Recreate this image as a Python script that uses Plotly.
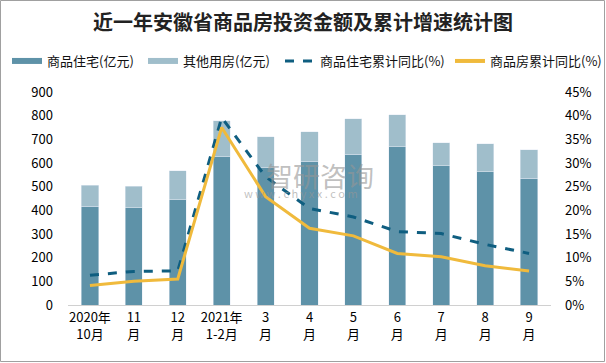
import plotly.graph_objects as go

categories = ["2020年<br>10月", "11<br>月", "12<br>月", "2021年<br>1-2月", "3<br>月", "4<br>月",
              "5<br>月", "6<br>月", "7<br>月", "8<br>月", "9<br>月"]
residential = [418, 410, 444, 626, 579, 608, 638, 668, 588, 562, 536]
other = [89, 92, 123, 152, 132, 124, 149, 136, 97, 119, 120]
res_growth = [6.3, 7.1, 7.2, 39.6, 27.1, 20.4, 18.6, 15.5, 15.1, 12.8, 10.9]
all_growth = [4.1, 5.0, 5.5, 37.5, 22.9, 16.2, 14.6, 10.9, 10.2, 8.3, 7.2]
legend_names = ["商品住宅(亿元)", "其他用房(亿元)", "商品住宅累计同比(%)", "商品房累计同比(%)"]

C_RES = "#5E92A8"
C_OTH = "#A0BECB"
C_DASH = "#0F5E80"
C_GOLD = "#F0BA3C"
FONT = "Noto Sans CJK SC"

W, H = 606, 363
ML, MR, MT, MB = 68, 55, 92, 58
pw = W - ML - MR
ph = H - MT - MB

fig = go.Figure()
fig.add_bar(x=categories, y=residential, marker_color=C_RES, name=legend_names[0],
            showlegend=False, yaxis="y")
fig.add_bar(x=categories, y=other, marker_color=C_OTH, name=legend_names[1],
            showlegend=False, yaxis="y")
fig.add_scatter(x=categories, y=res_growth, mode="lines", yaxis="y2", name=legend_names[2],
                line=dict(color=C_DASH, width=3, dash="dash"), showlegend=False)
fig.add_scatter(x=categories, y=all_growth, mode="lines", yaxis="y2", name=legend_names[3],
                line=dict(color=C_GOLD, width=3), showlegend=False)

# legend-only entries, each in its own legend box
text_x = [47, 183, 320, 490]
styles = [(C_RES, 6, "solid"), (C_OTH, 6, "solid"), (C_DASH, 3, "dash"), (C_GOLD, 4, "solid")]
legend_layouts = {}
for i, (nm, (col, wd, dash), tx) in enumerate(zip(legend_names, styles, text_x)):
    key = "legend" if i == 0 else f"legend{i + 1}"
    fig.add_scatter(x=[None], y=[None], mode="lines", name=nm, legend=key,
                    line=dict(color=col, width=wd, dash=dash))
    legend_layouts[key] = dict(orientation="h", x=(tx - 40 - ML) / pw, xanchor="left",
                               y=1 + (MT - 61) / ph, yanchor="middle",
                               font=dict(size=13, color="#111111"), itemwidth=30,
                               bgcolor="rgba(0,0,0,0)", borderwidth=0)

fig.update_layout(
    width=W, height=H,
    margin=dict(l=ML, r=MR, t=MT, b=MB, autoexpand=False),
    paper_bgcolor="white", plot_bgcolor="white",
    barmode="stack", bargap=0.61,
    font=dict(family=FONT, size=12, color="#000000"),
    title=dict(text="<b>近一年安徽省商品房投资金额及累计增速统计图</b>", x=0.5, xanchor="center",
               y=1 - 23 / H, yanchor="middle", font=dict(size=20, color="#222222")),
    xaxis=dict(showline=True, linecolor="#D0D0D0", linewidth=1, ticks="", automargin=False,
               tickfont=dict(size=13, color="#000000")),
    yaxis=dict(range=[0, 900], dtick=100, showgrid=False, zeroline=False, automargin=False,
               tickfont=dict(size=13, color="#000000"), ticklabelstandoff=14),
    yaxis2=dict(range=[0, 45], dtick=5, overlaying="y", side="right", showgrid=False,
                zeroline=False, ticksuffix="%", automargin=False,
                tickfont=dict(size=13, color="#000000"), ticklabelstandoff=13),
    shapes=[dict(type="rect", xref="paper", yref="paper",
                 x0=-(ML - 0.5) / pw, x1=1 + (MR - 1.5) / pw,
                 y0=-(MB - 1.5) / ph, y1=1 + (MT - 0.5) / ph,
                 line=dict(color="#A0A0A0", width=1), fillcolor="rgba(0,0,0,0)", layer="below")],
    annotations=[
        dict(text="智研咨询", xref="paper", yref="paper", x=(320 - ML) / pw, y=(H - MB - 175) / ph,
             showarrow=False, font=dict(size=27, color="rgba(150,150,150,0.6)")),
        dict(text="w w w . c h y x x . c o m", xref="paper", yref="paper",
             x=(301 - ML) / pw, y=(H - MB - 193) / ph,
             showarrow=False, font=dict(size=11, color="rgba(150,150,150,0.6)")),
    ],
    **legend_layouts,
)

fig.write_html("out.html", config={"displayModeBar": False})

# remove the browser's default page margin so the figure sits at the window's corner
with open("out.html", "r", encoding="utf-8") as f:
    html = f.read()
html = html.replace("<head>", "<head><style>html,body{margin:0;padding:0;overflow:hidden;}</style>", 1)
with open("out.html", "w", encoding="utf-8") as f:
    f.write(html)
